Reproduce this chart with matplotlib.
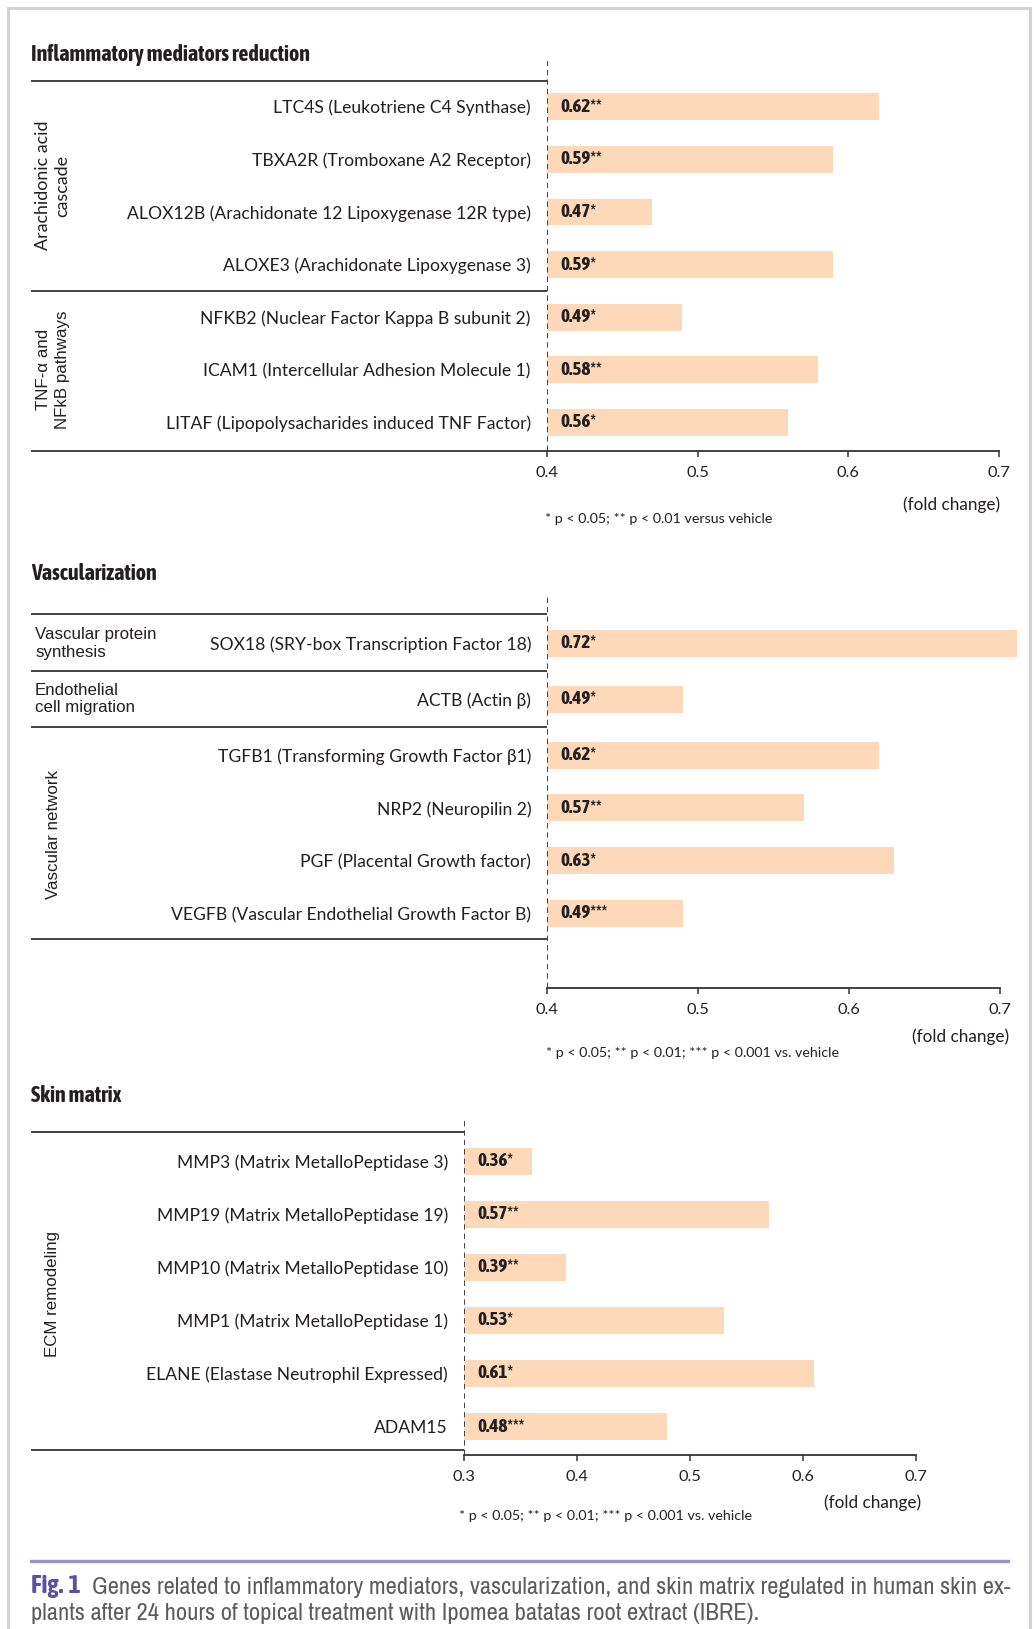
import matplotlib
matplotlib.use("Agg")
import matplotlib.pyplot as plt
import matplotlib.transforms as mtransforms
import matplotlib.patheffects as pe
from matplotlib import font_manager as fm
from matplotlib.patches import Rectangle

# ---------------------------------------------------------------- data
infl_genes = [
    "LTC4S (Leukotriene C4 Synthase)",
    "TBXA2R (Tromboxane A2 Receptor)",
    "ALOX12B (Arachidonate 12 Lipoxygenase 12R type)",
    "ALOXE3 (Arachidonate Lipoxygenase 3)",
    "NFKB2 (Nuclear Factor Kappa B subunit 2)",
    "ICAM1 (Intercellular Adhesion Molecule 1)",
    "LITAF (Lipopolysacharides induced TNF Factor)",
]
infl_values = [0.62, 0.59, 0.47, 0.59, 0.49, 0.58, 0.56]
infl_stars = ["**", "**", "*", "*", "*", "**", "*"]
infl_group_names = ["Arachidonic acid\ncascade", "TNF-\u03b1 and\nNFkB pathways"]
infl_group_sizes = [4, 3]

vasc_genes = [
    "SOX18 (SRY-box Transcription Factor 18)",
    "ACTB (Actin \u03b2)",
    "TGFB1 (Transforming Growth Factor \u03b21)",
    "NRP2 (Neuropilin 2)",
    "PGF (Placental Growth factor)",
    "VEGFB (Vascular Endothelial Growth Factor B)",
]
vasc_values = [0.72, 0.49, 0.62, 0.57, 0.63, 0.49]
vasc_stars = ["*", "*", "*", "**", "*", "***"]
vasc_group_names = ["Vascular protein\nsynthesis", "Endothelial\ncell migration", "Vascular network"]
vasc_group_sizes = [1, 1, 4]

skin_genes = [
    "MMP3 (Matrix MetalloPeptidase 3)",
    "MMP19 (Matrix MetalloPeptidase 19)",
    "MMP10 (Matrix MetalloPeptidase 10)",
    "MMP1 (Matrix MetalloPeptidase 1)",
    "ELANE (Elastase Neutrophil Expressed)",
    "ADAM15",
]
skin_values = [0.36, 0.57, 0.39, 0.53, 0.61, 0.48]
skin_stars = ["*", "**", "**", "*", "*", "***"]
skin_group_names = ["ECM remodeling"]
skin_group_sizes = [6]

infl_ticks = [0.4, 0.5, 0.6, 0.7]
vasc_ticks = [0.4, 0.5, 0.6, 0.7]
skin_ticks = [0.3, 0.4, 0.5, 0.6, 0.7]

titles = ["Inflammatory mediators reduction", "Vascularization", "Skin matrix"]
note_2 = "* p < 0.05; ** p < 0.01 versus vehicle"
note_3 = "* p < 0.05; ** p < 0.01; *** p < 0.001 vs. vehicle"
unit_label = "(fold change)"
fig_label = "Fig.\u20091"
caption_1 = "Genes related to inflammatory mediators, vascularization, and skin matrix regulated in human skin ex-"
caption_2 = "plants after 24 hours of topical treatment with Ipomea batatas root extract (IBRE)."

# ---------------------------------------------------------------- fonts
_fonts = fm.fontManager.ttflist
_names = {f.name for f in _fonts}


def first_available(*cands):
    for c in cands:
        if c in _names:
            return c
    return "DejaVu Sans"


def _weight(f):
    w = f.weight
    return fm.weight_dict.get(w, 400) if isinstance(w, str) else int(w)


def _has(name, lo, hi):
    return any(f.name == name and lo <= _weight(f) <= hi for f in _fonts)


SANS = first_available("Lato", "Roboto", "Noto Sans")
ARIAL = first_available("Liberation Sans", "DejaVu Sans")

_narrow = sorted(n for n in _names if "Narrow" in n or "Condensed" in n)
_narrow_regular = [n for n in _narrow if _has(n, 300, 500)]
_narrow_bold = [n for n in _narrow if _has(n, 600, 900)]
_narrow_fam = (_narrow_regular or _narrow or [first_available("Roboto", "Lato")])[0]
NARROW = dict(family=[_narrow_fam, "DejaVu Sans"])
LIGHT = 300 if _has(_narrow_fam, 200, 350) else 400
if _narrow_bold:
    BOLD = dict(family=[_narrow_bold[0], "DejaVu Sans"], fontweight="bold")
    THICKEN = None
elif _narrow:
    # condensed face without a bold cut: thicken the strokes instead
    BOLD = dict(NARROW)
    THICKEN = 1.0
else:
    BOLD = dict(family=[first_available("Roboto", "Lato"), "DejaVu Sans"], fontweight="bold")
    THICKEN = None

INK = "#231f20"
RULE = "#333333"
BAR = "#fdd9ba"
PURPLE = "#5e4fa2"
LAVENDER = "#9a8fc9"
CAPTION = "#5c5c5c"

W, H = 1034, 1629
fig = plt.figure(figsize=(W / 100, H / 100), dpi=100)
fig.patch.set_facecolor("white")
renderer = fig.canvas.get_renderer()


def fx(px):
    return px / W


def fy(py):
    return 1 - py / H


def fit_size(text, width_px):
    """Font size at which a text artist spans the given width."""
    w = text.get_window_extent(renderer).width
    return text.get_fontsize() * width_px / w


def bold_text(t, color):
    if THICKEN:
        t.set_path_effects([pe.withStroke(linewidth=THICKEN, foreground=color)])
    return t


# outer frame
fig.add_artist(Rectangle((fx(8), fy(1640)), fx(1030) - fx(8), fy(8) - fy(1640),
                         transform=fig.transFigure, fill=False,
                         edgecolor="#d2d2d2", linewidth=2.2))

value_texts = []
title_texts = []


def draw_panel(genes, values, stars, group_names, group_sizes, ticks, *,
               x_left, x_right, xlim, top_px, axis_px, first_row_px, pitch_px,
               group_gap, top_rule_px, bottom_rule_px, title, title_px,
               horizontal_groups=()):
    ax = fig.add_axes([fx(x_left), fy(axis_px), fx(x_right) - fx(x_left),
                       (axis_px - top_px) / H])
    ax.set_xlim(*xlim)
    ax.set_ylim((axis_px - first_row_px) / pitch_px, (top_px - first_row_px) / pitch_px)
    ax.set_facecolor("none")

    # row positions: one slot per gene, a little extra room between groups
    pos, gid = [], []
    k = 0
    for g, n in enumerate(group_sizes):
        for _ in range(n):
            pos.append(k + g * group_gap)
            gid.append(g)
            k += 1

    x0 = xlim[0]
    ax.barh(pos, [v - x0 for v in values], left=x0, height=0.51,
            color=BAR, edgecolor="none", zorder=1)
    for p, v, s in zip(pos, values, stars):
        t = ax.annotate(f"{v:.2f}{s}", (x0, p), xytext=(9.6, 0),
                        textcoords="offset points", ha="left", va="center",
                        fontsize=12, color=INK, zorder=3, **BOLD)
        value_texts.append(bold_text(t, INK))

    # dashed reference line at the baseline value
    ax.axvline(x0, color="#333333", lw=1.3, ls=(0, (3.0, 2.2)), zorder=2)

    for side in ("top", "right", "left"):
        ax.spines[side].set_visible(False)
    ax.spines["bottom"].set_bounds(ticks[0], ticks[-1])
    ax.spines["bottom"].set_linewidth(1.3)
    ax.spines["bottom"].set_color(RULE)
    ax.set_xticks(ticks)
    ax.set_xticklabels([f"{t:g}" for t in ticks])
    ax.tick_params(axis="x", direction="out", length=4.6, width=1.1, color=RULE,
                   pad=6.0, labelsize=11.8, labelcolor=INK)
    for lab in ax.get_xticklabels():
        lab.set_family(SANS)

    ax.set_yticks(pos)
    ax.set_yticklabels(genes)
    ax.tick_params(axis="y", length=0, pad=11.5, labelsize=12.6, labelcolor=INK)
    for lab in ax.get_yticklabels():
        lab.set_family(SANS)

    # horizontal rules running under the label column
    blend = mtransforms.blended_transform_factory(fig.transFigure, ax.transData)
    to_row = lambda py: (py - first_row_px) / pitch_px
    rule_rows = [to_row(top_rule_px), to_row(bottom_rule_px)]
    for g in range(len(group_sizes) - 1):
        last = max(p for p, i in zip(pos, gid) if i == g)
        nxt = min(p for p, i in zip(pos, gid) if i == g + 1)
        rule_rows.append((last + nxt) / 2)
    for r in rule_rows:
        ax.plot([fx(31), fx(x_left)], [r, r], transform=blend, color=RULE,
                lw=1.3, clip_on=False, solid_capstyle="butt")

    # group labels
    for g, name in enumerate(group_names):
        members = [p for p, i in zip(pos, gid) if i == g]
        centre = (members[0] + members[-1]) / 2
        if g in horizontal_groups:
            ax.text(fx(35), centre, name, transform=blend, ha="left", va="center",
                    fontsize=12.2, color=INK, linespacing=1.2, family=ARIAL)
        else:
            fam = SANS if name.startswith("Arach") else ARIAL
            size = 12.9 if name.startswith("Arach") else 12.2
            ax.text(fx(53), centre, name, transform=blend, ha="center", va="center",
                    rotation=90, fontsize=size, color=INK, linespacing=1.25,
                    family=fam)

    t = fig.text(fx(31), fy(title_px), title, ha="left", va="center",
                 fontsize=14, color=INK, **BOLD)
    title_texts.append(bold_text(t, INK))
    return ax


draw_panel(infl_genes, infl_values, infl_stars, infl_group_names, infl_group_sizes,
           infl_ticks, x_left=546.7, x_right=999.2, xlim=(0.4, 0.7), top_px=61,
           axis_px=451, first_row_px=106.7, pitch_px=52.63, group_gap=0.0,
           top_rule_px=80.5, bottom_rule_px=451, title=titles[0], title_px=54.5)
fig.text(fx(1000), fy(505), unit_label, ha="right", va="center", fontsize=12.3,
         color=INK, family=SANS)
fig.text(fx(545), fy(519), note_2, ha="left", va="center", fontsize=10.3,
         color=INK, family=SANS)

draw_panel(vasc_genes, vasc_values, vasc_stars, vasc_group_names, vasc_group_sizes,
           vasc_ticks, x_left=547.3, x_right=1016.6, xlim=(0.4, 0.711), top_px=595,
           axis_px=988, first_row_px=643.3, pitch_px=52.75, group_gap=0.06,
           top_rule_px=614, bottom_rule_px=939, title=titles[1], title_px=573.5,
           horizontal_groups=(0, 1))
fig.text(fx(1009), fy(1037), unit_label, ha="right", va="center", fontsize=12.3,
         color=INK, family=SANS)
fig.text(fx(546.5), fy(1053), note_3, ha="left", va="center", fontsize=10.3,
         color=INK, family=SANS)

draw_panel(skin_genes, skin_values, skin_stars, skin_group_names, skin_group_sizes,
           skin_ticks, x_left=464, x_right=916, xlim=(0.3, 0.7), top_px=1116.5,
           axis_px=1455, first_row_px=1161.3, pitch_px=53.04, group_gap=0.0,
           top_rule_px=1132.3, bottom_rule_px=1450, title=titles[2], title_px=1096)
fig.text(fx(921.5), fy(1503), unit_label, ha="right", va="center", fontsize=12.3,
         color=INK, family=SANS)
fig.text(fx(459), fy(1516), note_3, ha="left", va="center", fontsize=10.3,
         color=INK, family=SANS)

# caption
fig.add_artist(plt.Line2D([fx(31), fx(1008)], [fy(1560.5), fy(1560.5)],
                          transform=fig.transFigure, color=LAVENDER, lw=2.4))
fig_lab = bold_text(fig.text(fx(31), fy(1586), fig_label, ha="left", va="center",
                             fontsize=14, color=PURPLE, **BOLD), PURPLE)
cap1 = fig.text(fx(91.5), fy(1587), caption_1, ha="left", va="center",
                fontsize=14, color=CAPTION, fontweight=LIGHT, **NARROW)
cap2 = fig.text(fx(31), fy(1614), caption_2, ha="left", va="center",
                fontsize=14, color=CAPTION, fontweight=LIGHT, **NARROW)

# size the condensed texts to the widths of the printed layout
s = fit_size(title_texts[0], 280)
for t in title_texts:
    t.set_fontsize(s)
s = fit_size(value_texts[0], 42)
for t in value_texts:
    t.set_fontsize(s)
s = fit_size(cap1, 914)
for t in (cap1, cap2):
    t.set_fontsize(s)
fig_lab.set_fontsize(fit_size(fig_lab, 50))

fig.savefig("out.png", dpi=100, facecolor="white")
